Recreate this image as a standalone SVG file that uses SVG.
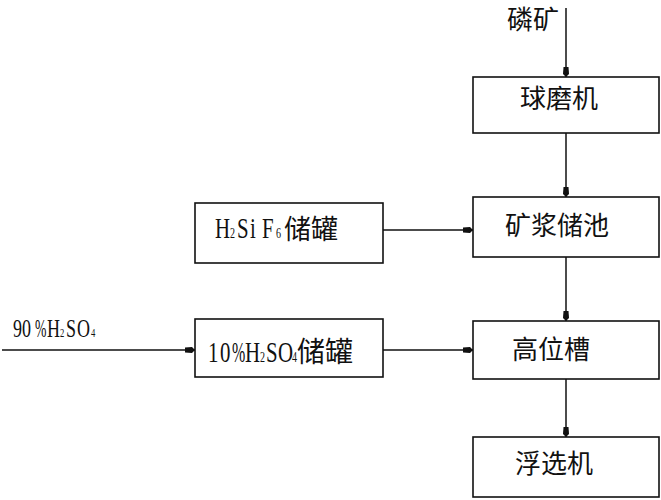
<svg xmlns="http://www.w3.org/2000/svg" width="661" height="500" viewBox="0 0 661 500">
<defs>
<style>
.box{fill:#fff;stroke:#111;stroke-width:1.6}
.ln{fill:none;stroke:#111;stroke-width:1.5;marker-end:url(#ah)}
.cj{font-family:"Noto Sans CJK SC","Noto Sans",sans-serif;font-size:26px;fill:#111}
.lt{font-family:"Liberation Serif","Noto Sans CJK SC",serif;font-size:29px;fill:#111}
.sb{font-size:14px}
</style>
<marker id="ah" markerUnits="userSpaceOnUse" markerWidth="11" markerHeight="8" refX="10" refY="4" orient="auto">
<path d="M0,1.5 L7,1 L10,4 L7,7 L0,6.5 Z" fill="#111"/>
</marker>
</defs>
<rect width="661" height="500" fill="#fff"/>
<g id="connectors">
<path class="ln" d="M566,8 V77"/>
<path class="ln" d="M566,133 V197"/>
<path class="ln" d="M566,257 V321"/>
<path class="ln" d="M566,379 V437"/>
<path class="ln" d="M383,230 H473"/>
<path class="ln" d="M2,350 H195"/>
<path class="ln" d="M383,350 H473"/>
</g>
<g id="label-linkuang">
<text class="cj" x="507" y="29" font-size="24">磷矿</text>
</g>
<g id="label-h2so4-90">
<g transform="translate(0,337) scale(0.72,1)">
<text class="lt" y="0" style="font-size:25px"><tspan x="18.1">9</tspan><tspan x="30.6">0</tspan></text>
<text class="lt" y="0" style="font-size:25px"><tspan x="65.3">H</tspan><tspan x="83.3" style="font-size:12px">2</tspan><tspan x="91.7">S</tspan><tspan x="106.9">O</tspan><tspan x="126.4" style="font-size:12px">4</tspan></text>
</g>
<g transform="translate(35,337) scale(0.55,1)">
<text class="lt" x="0" y="0" style="font-size:25px">%</text>
</g>
</g>
<g id="node-qiumoji">
<rect class="box" x="473" y="77" width="186" height="56"/>
<text class="cj" x="520" y="108">球磨机</text>
</g>
<g id="node-kuangjiang">
<rect class="box" x="473" y="197" width="186" height="60"/>
<text class="cj" x="505" y="235">矿浆储池</text>
</g>
<g id="node-h2sif6">
<rect class="box" x="195" y="203" width="188" height="60"/>
<g transform="translate(0,238) scale(0.72,1)">
<text class="lt" y="0"><tspan x="298.6">H</tspan><tspan x="319.4" class="sb">2</tspan><tspan x="329.2">S</tspan><tspan x="347.2">i</tspan><tspan x="363.9">F</tspan><tspan x="383.3" class="sb">6</tspan></text>
</g>
<text class="cj" x="284" y="239" style="font-size:27px">储罐</text>
</g>
<g id="node-gaoweicao">
<rect class="box" x="473" y="321" width="186" height="58"/>
<text class="cj" x="512" y="359">高位槽</text>
</g>
<g id="node-h2so4-10">
<rect class="box" x="195" y="319" width="188" height="58"/>
<g transform="translate(0,362) scale(0.72,1)">
<text class="lt" y="0"><tspan x="288.9">1</tspan><tspan x="305.6">0</tspan></text>
<text class="lt" y="0"><tspan x="340.3">H</tspan><tspan x="361.1" class="sb">2</tspan><tspan x="369.4">S</tspan><tspan x="386.1">O</tspan><tspan x="405.6" class="sb">4</tspan></text>
</g>
<g transform="translate(232,362) scale(0.55,1)">
<text class="lt" x="0" y="0">%</text>
</g>
<text class="cj" x="297" y="362" style="font-size:28px">储罐</text>
</g>
<g id="node-fuxuanji">
<rect class="box" x="473" y="437" width="186" height="60"/>
<text class="cj" x="515" y="473">浮选机</text>
</g>
</svg>
